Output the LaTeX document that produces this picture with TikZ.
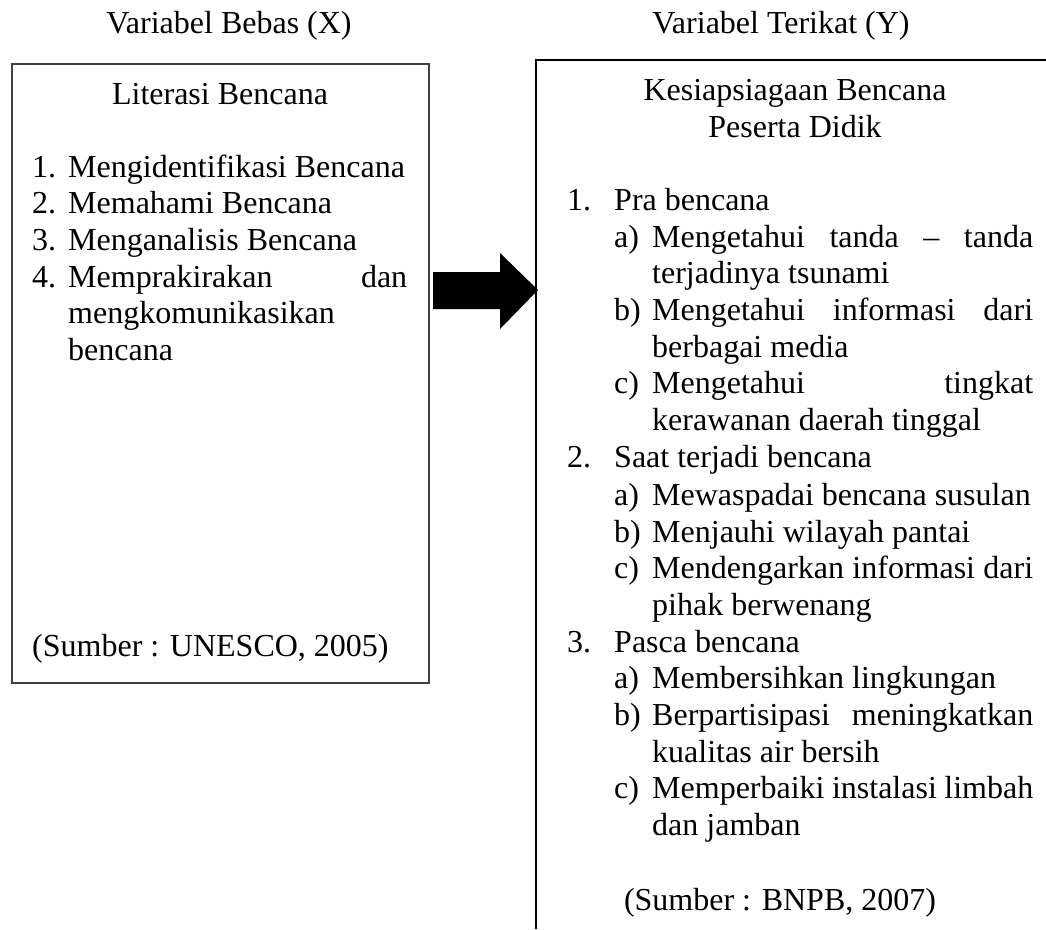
\documentclass[tikz,border=0pt]{standalone}
\usepackage{fontspec}
\setmainfont{Liberation Serif}
\begin{document}
\begin{tikzpicture}[x=1pt,y=-1pt,
  txt/.style={inner sep=0pt, anchor=base west, font=\fontsize{32}{37}\selectfont},
  ctr/.style={inner sep=0pt, anchor=base, font=\fontsize{32}{37}\selectfont},
  boxline/.style={line width=1.5pt}]
\useasboundingbox (0,0) rectangle (1046,929);
% boxes
\node[draw=black!75, boxline, minimum width=417pt, minimum height=619pt, inner sep=0pt, anchor=north west] (lbox) at (11,63) {};
\coordinate (rtl) at (536,60);
\coordinate (rtr) at (1046,60);
\coordinate (rbl) at (536,929);
\draw[boxline] (rtr) -- (rtl) -- (rbl);
% arrow
\coordinate (atip) at (538,290);
\fill[black] (433,272) -- (500,272) -- (500,253) -- (atip) -- (500,329) -- (500,309) -- (433,309) -- cycle;
% titles
\node[ctr] (tx) at (229,33) {Variabel Bebas (X)};
\node[ctr] (ty) at (781,33) {Variabel Terikat (Y)};
% left content
\node[ctr] (lt) at (220,104) {Literasi Bencana};
\node[txt] (l1n) at (32,177) {1.};
\node[txt] (l1) at (68,177) {Mengidentifikasi Bencana};
\node[txt] (l2n) at (32,213) {2.};
\node[txt] (l2) at (68,213) {Memahami Bencana};
\node[txt] (l3n) at (32,250) {3.};
\node[txt] (l3) at (68,250) {Menganalisis Bencana};
\node[txt] (l4n) at (32,287) {4.};
\node[txt] (l4) at (68,287) {\hbox to 339pt{Memprakirakan\hfill dan}};
\node[txt] (l4b) at (68,323) {mengkomunikasikan};
\node[txt] (l4c) at (68,360) {bencana};
\node[txt] (ls) at (32,656) {(Sumber : UNESCO, 2005)};
% right content
\node[ctr] (rt1) at (795,100) {Kesiapsiagaan Bencana};
\node[ctr] (rt2) at (795,137) {Peserta Didik};
\node[txt] (r1n) at (567,210) {1.};
\node[txt] (r1) at (614,210) {Pra bencana};
\node[txt] (r1an) at (614,247) {a)};
\node[txt] (r1a) at (652,247) {\hbox to 381pt{Mengetahui\hfill tanda\hfill \textendash\hfill tanda}};
\node[txt] (r1a2) at (652,283) {terjadinya tsunami};
\node[txt] (r1bn) at (614,320) {b)};
\node[txt] (r1b) at (652,320) {\hbox to 381pt{Mengetahui\hfill informasi\hfill dari}};
\node[txt] (r1b2) at (652,357) {berbagai media};
\node[txt] (r1cn) at (614,393) {c)};
\node[txt] (r1c) at (652,393) {\hbox to 381pt{Mengetahui\hfill tingkat}};
\node[txt] (r1c2) at (652,430) {kerawanan daerah tinggal};
\node[txt] (r2n) at (567,467) {2.};
\node[txt] (r2) at (614,467) {Saat terjadi bencana};
\node[txt] (r2an) at (614,505) {a)};
\node[txt] (r2a) at (652,505) {Mewaspadai bencana susulan};
\node[txt] (r2bn) at (614,542) {b)};
\node[txt] (r2b) at (652,542) {Menjauhi wilayah pantai};
\node[txt] (r2cn) at (614,578) {c)};
\node[txt] (r2c) at (652,578) {\hbox to 381pt{Mendengarkan\hfill informasi\hfill dari}};
\node[txt] (r2c2) at (652,615) {pihak berwenang};
\node[txt] (r3n) at (567,652) {3.};
\node[txt] (r3) at (614,652) {Pasca bencana};
\node[txt] (r3an) at (614,688) {a)};
\node[txt] (r3a) at (652,688) {Membersihkan lingkungan};
\node[txt] (r3bn) at (614,725) {b)};
\node[txt] (r3b) at (652,725) {\hbox to 381pt{Berpartisipasi\hfill meningkatkan}};
\node[txt] (r3b2) at (652,762) {kualitas air bersih};
\node[txt] (r3cn) at (614,798) {c)};
\node[txt] (r3c) at (652,798) {\hbox to 381pt{Memperbaiki\hfill instalasi\hfill limbah}};
\node[txt] (r3c2) at (652,835) {dan jamban};
\node[ctr] (rs) at (780,910) {(Sumber : BNPB, 2007)};
\end{tikzpicture}
\end{document}
